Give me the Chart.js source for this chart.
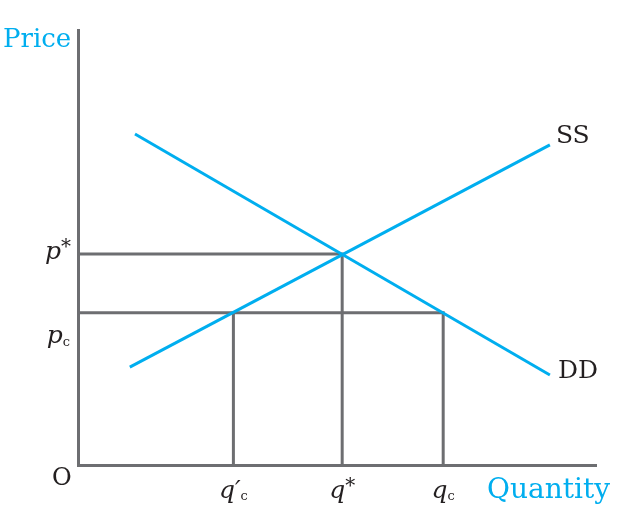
<!DOCTYPE html>
<html>
<head>
<meta charset="utf-8">
<script src="https://cdn.jsdelivr.net/npm/chart.js@4"></script>
<style>
  html, body { margin: 0; padding: 0; background: #fff; }
  #wrap { width: 636px; height: 516px; position: relative; }
</style>
</head>
<body>
<div id="wrap"><canvas id="chart"></canvas></div>
<script>
// quantity / price values (axis runs 0..10 both ways)
const supplyQ = [1.0, 9.11];
const supplyP = [2.25, 7.36];
const demandQ = [1.1, 9.11];
const demandP = [7.61, 2.07];

const pStar = 4.85;
const pC = 3.5;
const qPrimeC = 3.0;
const qStar = 5.1;
const qC = 7.05;

const CYAN = '#00aeef';
const GREY = '#6d6e71';
const SERIF = '"DejaVu Serif", serif';

function toPoints(xs, ys) {
    return xs.map((x, i) => ({ x: x, y: ys[i] }));
}

// guide lines from the price axis to the equilibrium and the ceiling
const guides = [
    { x: 0, y: pStar }, { x: qStar, y: pStar }, { x: qStar, y: 0 }, { x: null, y: null },
    { x: 0, y: pC }, { x: qC, y: pC }, { x: qC, y: 0 }, { x: null, y: null },
    { x: qPrimeC, y: pC }, { x: qPrimeC, y: 0 }
];

const labelPlugin = {
    id: 'labels',
    afterDraw(chart) {
        const ctx = chart.ctx;
        const xs = chart.scales.x;
        const ys = chart.scales.y;
        ctx.save();
        ctx.textBaseline = 'middle';

        function sym(letter, sub, x, y, align) {
            ctx.font = 'italic 25px ' + SERIF;
            const w1 = ctx.measureText(letter).width;
            ctx.font = (sub === '*' ? '20px ' : '13px ') + SERIF;
            const w2 = ctx.measureText(sub).width;
            let left = x;
            if (align === 'right') left = x - w1 - w2;
            if (align === 'center') left = x - (w1 + w2) / 2;
            ctx.fillStyle = '#231f20';
            ctx.textAlign = 'left';
            ctx.font = 'italic 25px ' + SERIF;
            ctx.fillText(letter, left, y);
            if (sub === '*') {
                ctx.font = '20px ' + SERIF;
                ctx.fillText(sub, left + w1, y - 4);
            } else {
                ctx.font = '13px ' + SERIF;
                ctx.fillText(sub, left + w1, y + 6);
            }
        }

        const x0 = xs.getPixelForValue(0);
        const y0 = ys.getPixelForValue(0);

        sym('p', '*', x0 - 7, ys.getPixelForValue(pStar) - 2, 'right');
        sym('p', 'c', x0 - 8, ys.getPixelForValue(pC) + 24, 'right');
        sym('q\u2032', 'c', xs.getPixelForValue(qPrimeC), y0 + 26, 'center');
        sym('q', '*', xs.getPixelForValue(qStar), y0 + 26, 'center');
        sym('q', 'c', xs.getPixelForValue(qC), y0 + 26, 'center');

        ctx.fillStyle = '#231f20';
        ctx.font = '24px ' + SERIF;
        ctx.textAlign = 'left';
        ctx.fillText('O', 52, y0 + 14);

        ctx.font = '25px ' + SERIF;
        ctx.fillText('SS', xs.getPixelForValue(supplyQ[1]) + 6, ys.getPixelForValue(supplyP[1]) - 8);
        ctx.fillText('DD', xs.getPixelForValue(demandQ[1]) + 8, ys.getPixelForValue(demandP[1]) - 3);

        ctx.fillStyle = CYAN;
        ctx.font = '26px ' + SERIF;
        ctx.fillText('Price', 3, 40);
        ctx.font = '28px ' + SERIF;
        ctx.fillText('Quantity', 487, y0 + 26);
        ctx.restore();
    }
};

new Chart(document.getElementById('chart'), {
    type: 'scatter',
    data: {
        datasets: [
            {
                label: 'SS',
                data: toPoints(supplyQ, supplyP),
                showLine: true,
                borderColor: CYAN,
                borderWidth: 3,
                pointRadius: 0,
                order: 1
            },
            {
                label: 'DD',
                data: toPoints(demandQ, demandP),
                showLine: true,
                borderColor: CYAN,
                borderWidth: 3,
                pointRadius: 0,
                order: 1
            },
            {
                label: 'guides',
                data: guides,
                showLine: true,
                spanGaps: false,
                borderColor: GREY,
                borderWidth: 3,
                pointRadius: 0,
                order: 2
            }
        ]
    },
    options: {
        responsive: true,
        maintainAspectRatio: false,
        animation: false,
        layout: { padding: { left: 78, right: 40, top: 30, bottom: 51 } },
        plugins: {
            legend: { display: false },
            tooltip: { enabled: false }
        },
        scales: {
            x: {
                type: 'linear',
                min: 0,
                max: 10,
                grid: { display: false, drawTicks: false },
                ticks: { display: false },
                border: { color: GREY, width: 3 }
            },
            y: {
                type: 'linear',
                min: 0,
                max: 10,
                grid: { display: false, drawTicks: false },
                ticks: { display: false },
                border: { color: GREY, width: 3 }
            }
        }
    },
    plugins: [labelPlugin]
});
</script>
</body>
</html>
